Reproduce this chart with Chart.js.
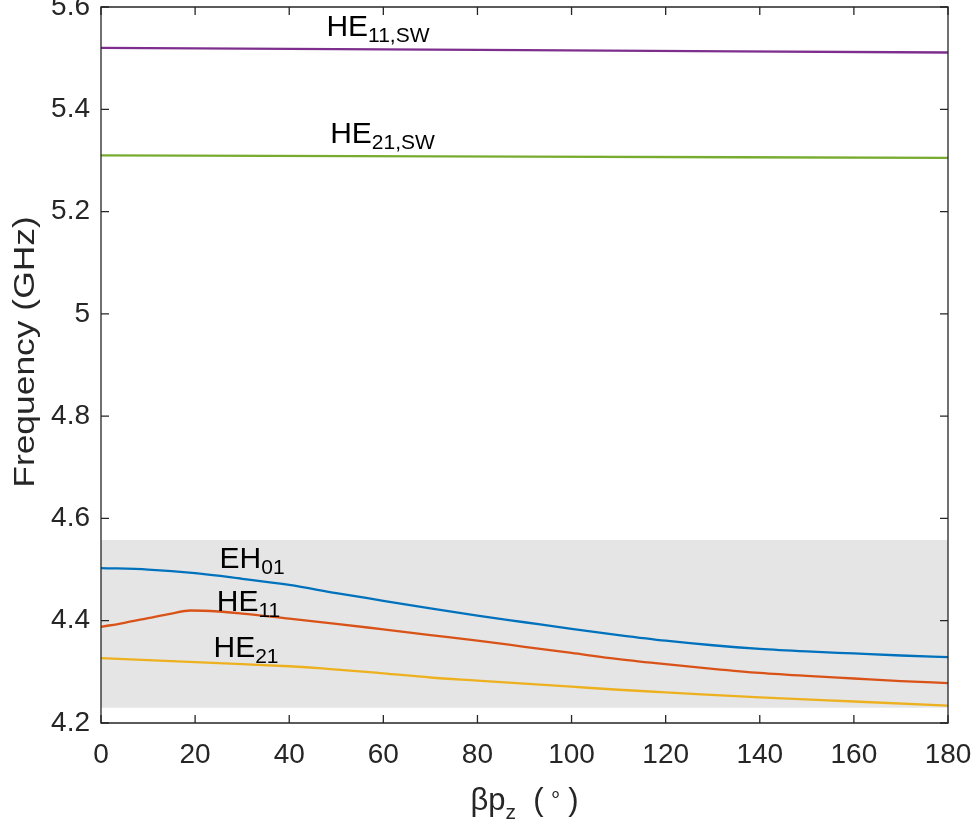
<!DOCTYPE html>
<html>
<head>
<meta charset="utf-8">
<script src="https://cdn.jsdelivr.net/npm/chart.js@4.4.0/dist/chart.umd.min.js"></script>
<style>
  html, body { margin: 0; padding: 0; background: #fff; }
  #wrap { width: 976px; height: 832px; }
</style>
</head>
<body>
<div id="wrap"><canvas id="dispersion" width="976" height="832"></canvas></div>
<script>
// tick labels
const xTicks = [0, 20, 40, 60, 80, 100, 120, 140, 160, 180];
const yTicks = [4.2, 4.4, 4.6, 4.8, 5.0, 5.2, 5.4, 5.6];

// HE11,SW and HE21,SW (nearly flat)
const swX = [0, 90, 180];
const he11sw = [5.520, 5.5155, 5.511];
const he21sw = [5.310, 5.3075, 5.305];

// EH01
const eh01X = [0, 10, 20, 30, 40, 50, 60, 70, 80, 90, 100, 110, 120, 130, 140, 150, 160, 170, 180];
const eh01 = [4.503, 4.500, 4.493, 4.482, 4.470, 4.454, 4.439, 4.424, 4.410, 4.397, 4.384, 4.372, 4.361, 4.352, 4.345, 4.340, 4.336, 4.332, 4.329];

// HE11
const he11X = [0, 5, 10, 15, 19, 25, 30, 40, 50, 60, 70, 80, 90, 100, 110, 120, 130, 140, 150, 160, 170, 180];
const he11 = [4.388, 4.396, 4.405, 4.414, 4.420, 4.418, 4.414, 4.404, 4.394, 4.383, 4.372, 4.361, 4.349, 4.337, 4.325, 4.315, 4.306, 4.298, 4.292, 4.287, 4.282, 4.278];

// HE21
const he21X = [0, 10, 20, 30, 40, 47, 60, 70, 80, 90, 100, 110, 120, 140, 160, 180];
const he21 = [4.327, 4.323, 4.319, 4.315, 4.311, 4.307, 4.297, 4.289, 4.283, 4.277, 4.271, 4.265, 4.260, 4.250, 4.242, 4.234];

// grey band
const bandX = [0, 180];
const bandLow = [4.23, 4.23];
const bandHigh = [4.558, 4.558];

// mode labels (data coordinates of text start / baseline)
const modeLabels = [
  { main: 'HE', sub: '11,SW', x: 47.9, y: 5.5425 },
  { main: 'HE', sub: '21,SW', x: 48.7, y: 5.3338 },
  { main: 'EH', sub: '01', x: 25.2, y: 4.5022 },
  { main: 'HE', sub: '11', x: 24.6, y: 4.4188 },
  { main: 'HE', sub: '21', x: 23.9, y: 4.3297 },
];

const FONT = '"Liberation Sans", Arial, Helvetica, sans-serif';
const axisColor = '#262626';

const toXY = (xs, ys) => xs.map((x, i) => ({ x: x, y: ys[i] }));

const lineSet = (data, color) => ({
  data: data,
  borderColor: color,
  borderWidth: 2.3,
  pointRadius: 0,
  fill: false,
  cubicInterpolationMode: 'monotone',
});

// box, inward ticks on all four sides
const boxPlugin = {
  id: 'box',
  afterDraw(chart) {
    const { ctx, chartArea: a, scales } = chart;
    ctx.save();
    ctx.strokeStyle = axisColor;
    ctx.lineWidth = 1.3;
    ctx.beginPath();
    ctx.rect(a.left, a.top, a.right - a.left, a.bottom - a.top);
    ctx.stroke();
    const len = 8;
    ctx.beginPath();
    xTicks.forEach(v => {
      const px = scales.x.getPixelForValue(v);
      ctx.moveTo(px, a.bottom); ctx.lineTo(px, a.bottom - len);
      ctx.moveTo(px, a.top); ctx.lineTo(px, a.top + len);
    });
    yTicks.forEach(v => {
      const py = scales.y.getPixelForValue(v);
      ctx.moveTo(a.left, py); ctx.lineTo(a.left + len, py);
      ctx.moveTo(a.right, py); ctx.lineTo(a.right - len, py);
    });
    ctx.stroke();
    ctx.restore();
  }
};

const drawSubText = (ctx, x, y, main, sub, mainSize, subSize, drop) => {
  ctx.font = `${mainSize}px ${FONT}`;
  ctx.fillText(main, x, y);
  const w = ctx.measureText(main).width;
  ctx.font = `${subSize}px ${FONT}`;
  ctx.fillText(sub, x + w, y + drop);
};

const labelPlugin = {
  id: 'labels',
  afterDraw(chart) {
    const { ctx, chartArea: a, scales } = chart;
    ctx.save();
    ctx.fillStyle = '#000';
    ctx.textBaseline = 'alphabetic';
    ctx.textAlign = 'left';
    modeLabels.forEach(l => {
      drawSubText(ctx, scales.x.getPixelForValue(l.x), scales.y.getPixelForValue(l.y),
        l.main, l.sub, 30, 21, 6);
    });

    // x axis title: βp_z (°)
    ctx.fillStyle = axisColor;
    const cx = (a.left + a.right) / 2;
    const base = 810;
    ctx.font = `31px ${FONT}`;
    const w1 = ctx.measureText('βp').width;
    ctx.font = `21px ${FONT}`;
    const w2 = ctx.measureText('z').width;
    ctx.font = `31px ${FONT}`;
    const w3 = ctx.measureText('  (').width;
    ctx.font = `21px ${FONT}`;
    const w4 = ctx.measureText(' ∘ ').width;
    ctx.font = `31px ${FONT}`;
    const w5 = ctx.measureText(')').width;
    let x = cx - (w1 + w2 + w3 + w4 + w5) / 2;
    ctx.font = `31px ${FONT}`;
    ctx.fillText('βp', x, base); x += w1;
    ctx.font = `21px ${FONT}`;
    ctx.fillText('z', x, base + 9); x += w2;
    ctx.font = `31px ${FONT}`;
    ctx.fillText('  (', x, base); x += w3;
    ctx.font = `21px ${FONT}`;
    ctx.fillText(' ∘ ', x, base - 10); x += w4;
    ctx.font = `31px ${FONT}`;
    ctx.fillText(')', x, base);

    // y axis title
    ctx.translate(34, 352);
    ctx.rotate(-Math.PI / 2);
    ctx.scale(1.18, 1);
    ctx.textAlign = 'center';
    ctx.font = `30px ${FONT}`;
    ctx.fillText('Frequency (GHz)', 0, 0);
    ctx.restore();
  }
};

new Chart(document.getElementById('dispersion'), {
  type: 'line',
  data: {
    datasets: [
      lineSet(toXY(swX, he11sw), '#7E2F8E'),
      lineSet(toXY(swX, he21sw), '#77AC30'),
      lineSet(toXY(eh01X, eh01), '#0072BD'),
      lineSet(toXY(he11X, he11), '#D95319'),
      lineSet(toXY(he21X, he21), '#EDB120'),
      {
        data: toXY(bandX, bandHigh),
        borderWidth: 0,
        pointRadius: 0,
        backgroundColor: '#e5e5e5',
        fill: '+1',
      },
      {
        data: toXY(bandX, bandLow),
        borderWidth: 0,
        pointRadius: 0,
        fill: false,
      },
    ]
  },
  options: {
    responsive: false,
    animation: false,
    layout: { padding: { left: 0, right: 28, top: 7, bottom: 0 } },
    plugins: {
      legend: { display: false },
      tooltip: { enabled: false },
    },
    scales: {
      x: {
        type: 'linear',
        min: 0,
        max: 180,
        afterBuildTicks: s => { s.ticks = xTicks.map(v => ({ value: v })); },
        afterFit: s => { s.height = 109; s.paddingLeft = 0; s.paddingRight = 0; },
        grid: { display: false, drawTicks: false },
        border: { display: false },
        ticks: {
          color: axisColor,
          font: { family: FONT, size: 28 },
          padding: 15,
          maxRotation: 0,
          callback: v => String(v),
        },
      },
      y: {
        type: 'linear',
        min: 4.2,
        max: 5.6,
        afterBuildTicks: s => { s.ticks = yTicks.map(v => ({ value: v })); },
        afterFit: s => { s.width = 101; s.paddingTop = 0; s.paddingBottom = 0; },
        grid: { display: false, drawTicks: false },
        border: { display: false },
        ticks: {
          color: axisColor,
          font: { family: FONT, size: 28 },
          padding: 11,
          callback: v => String(Math.round(v * 10) / 10),
        },
      },
    },
  },
  plugins: [boxPlugin, labelPlugin],
});
</script>
</body>
</html>
